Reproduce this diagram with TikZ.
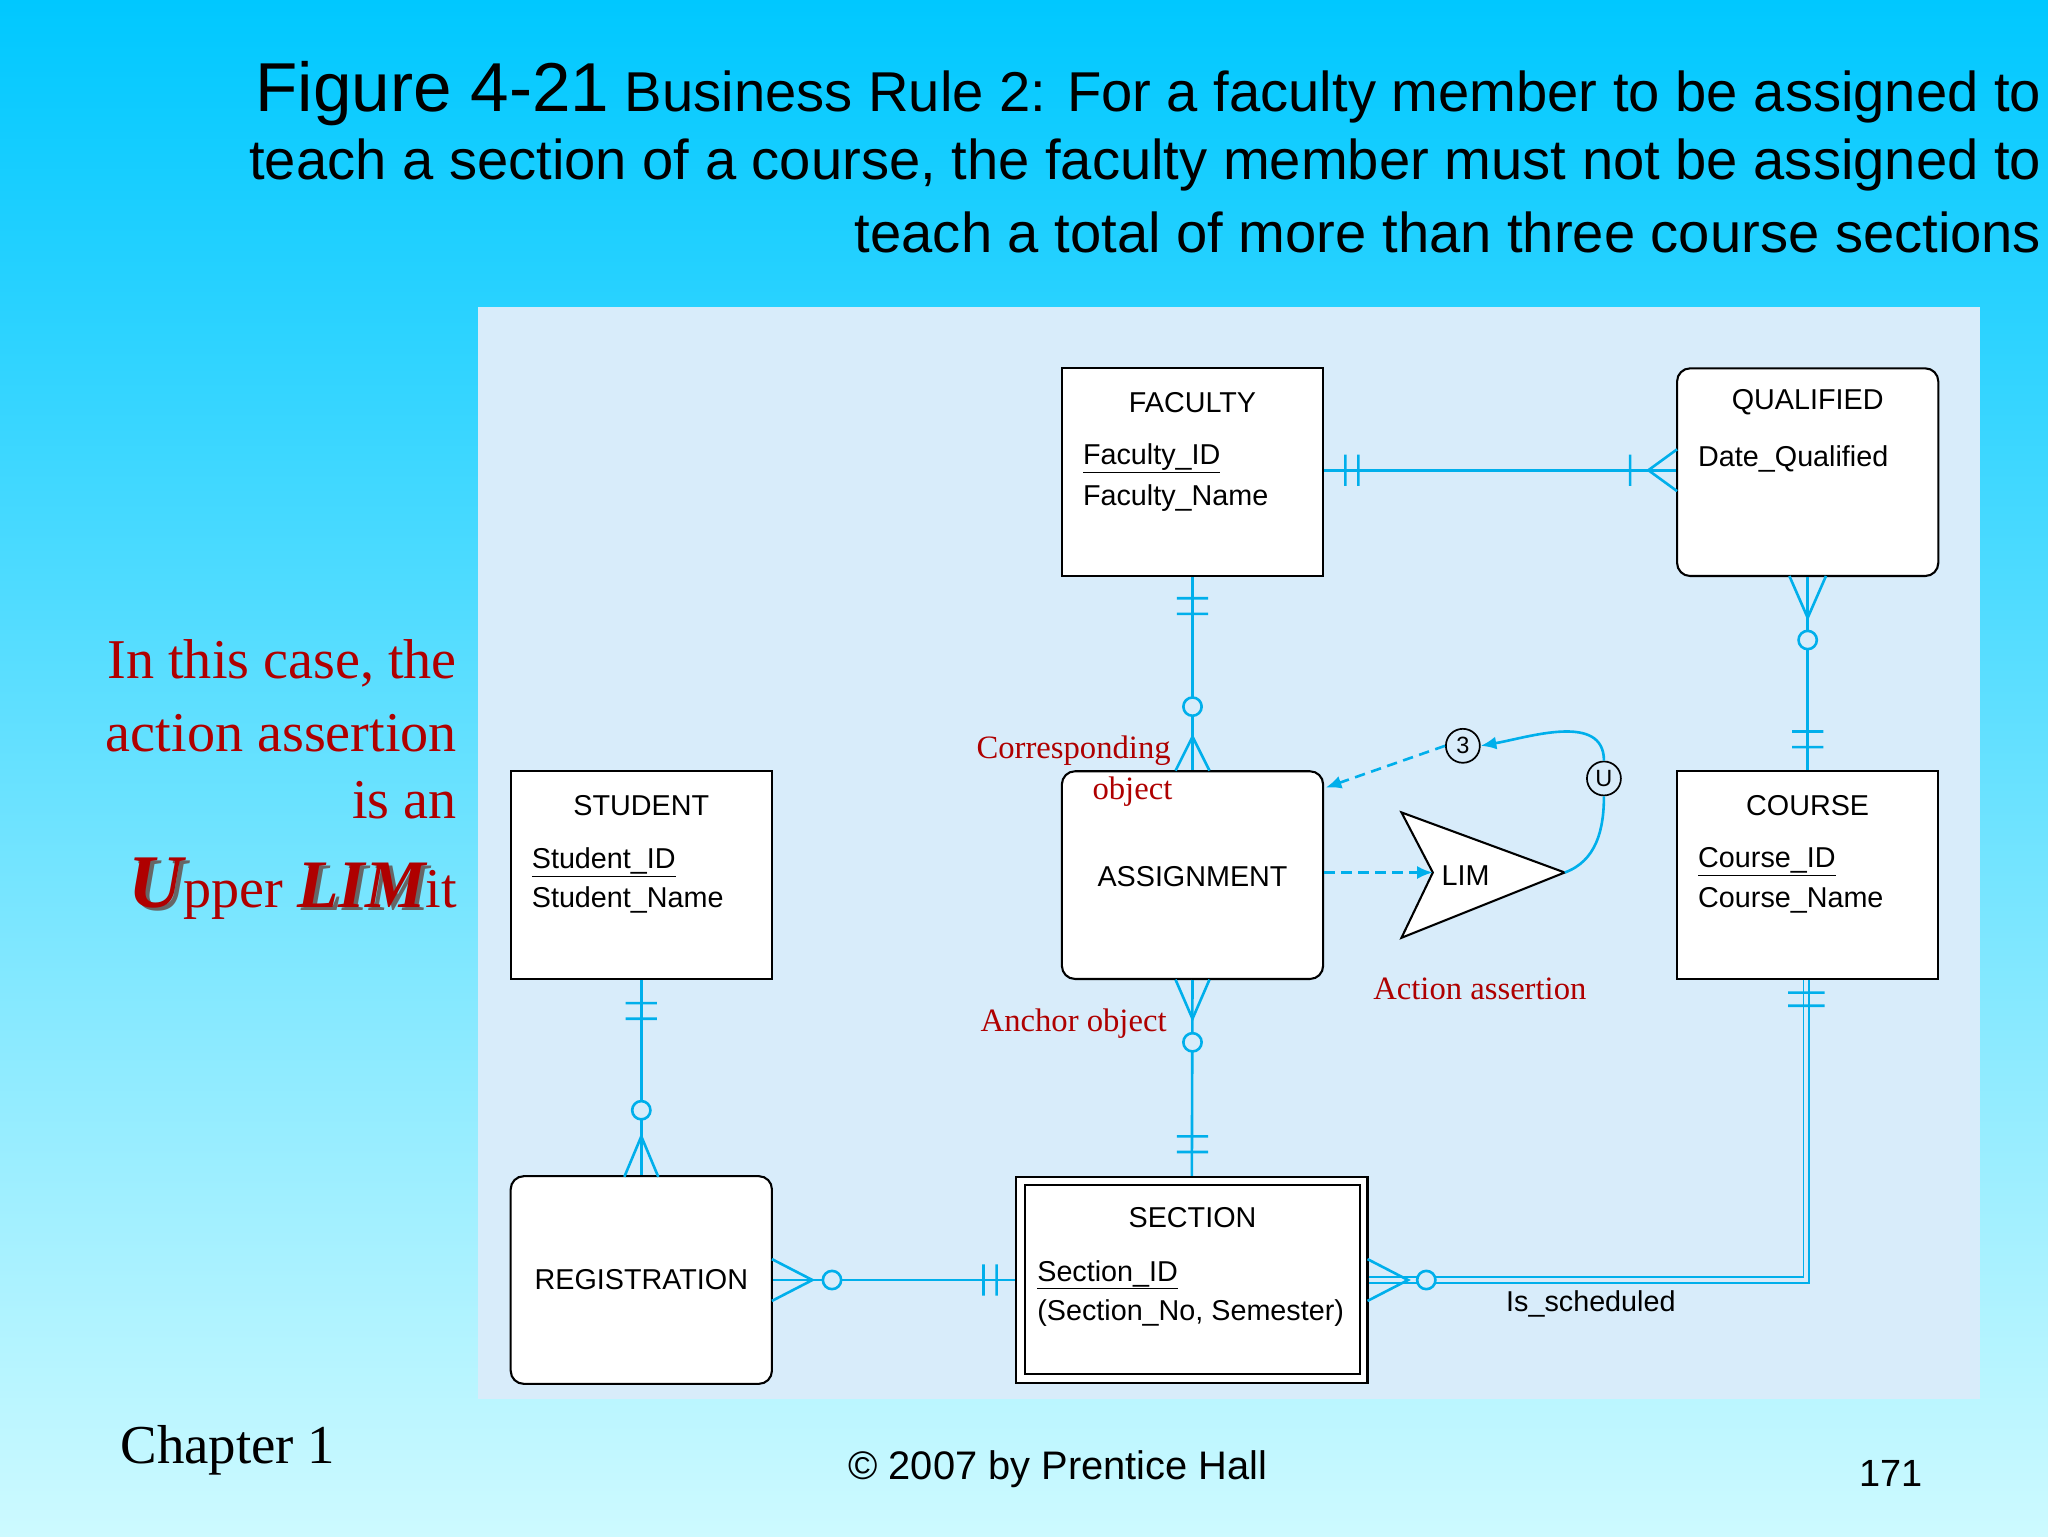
\documentclass[tikz,border=0pt]{standalone}
\usepackage{fontspec}
\setmainfont{Liberation Serif}
\setsansfont{Liberation Sans}
\usetikzlibrary{arrows.meta}
\begin{document}
\begin{tikzpicture}[x=1pt,y=-1pt,
  ln/.style={draw=lc,line width=2pt},
  ent/.style={draw=black,line width=1.6pt,fill=white,minimum width=200pt,minimum height=159pt,inner sep=0pt},
  rent/.style={ent,rounded corners=10pt},
  et/.style={font=\sffamily\fontsize{22}{26}\selectfont,inner sep=0pt},
  attr/.style={et,anchor=west,align=left},
  rt/.style={font=\fontsize{25}{29}\selectfont,text=rc,inner sep=0pt},
  dsh/.style={draw=lc,line width=2pt,dashed,dash pattern=on 8pt off 5pt,-{Latex[length=12pt,width=10pt]}}
]
\definecolor{lc}{RGB}{0,175,235}
\definecolor{rc}{RGB}{175,0,0}
\definecolor{bgt}{RGB}{0,200,255}
\definecolor{bgb}{RGB}{205,250,255}
\definecolor{pan}{RGB}{216,236,250}
\useasboundingbox (0,0) rectangle (1568,1176);
\shade[top color=bgt,bottom color=bgb] (0,0) rectangle (1568,1176);
\fill[pan] (366,235) rectangle (1516,1071);
% title
\node[anchor=east,font=\sffamily\fontsize{43}{47}\selectfont,inner sep=0pt] at (1563,72) {{\fontsize{53}{57}\selectfont Figure 4-21} Business Rule 2: For a faculty member to be assigned to};
\node[anchor=east,font=\sffamily\fontsize{43}{47}\selectfont,inner sep=0pt] at (1563,126) {teach a section of a course, the faculty member must not be assigned to};
\node[anchor=east,font=\sffamily\fontsize{43}{47}\selectfont,inner sep=0pt] at (1563,178) {teach a total of more than three course sections};
% left text
\node[anchor=east,text=rc,font=\fontsize{43}{47}\selectfont,inner sep=0pt] at (350,508) {In this case, the};
\node[anchor=east,text=rc,font=\fontsize{43}{47}\selectfont,inner sep=0pt] at (350,561) {action assertion};
\node[anchor=east,text=rc,font=\fontsize{43}{47}\selectfont,inner sep=0pt] at (350,613) {is an};
\node[anchor=east,text=black!60,font=\fontsize{43}{47}\selectfont,inner sep=0pt] at (353,683) {{\fontsize{58}{62}\selectfont\bfseries\itshape U}\phantom{pper }{\fontsize{52}{56}\selectfont\bfseries\itshape LIM}\phantom{it}};
\node[anchor=east,text=rc,font=\fontsize{43}{47}\selectfont,inner sep=0pt] at (350,680) {{\fontsize{58}{62}\selectfont\bfseries\itshape U}pper {\fontsize{52}{56}\selectfont\bfseries\itshape LIM}it};
% footer
\node[anchor=west,font=\fontsize{42}{46}\selectfont,inner sep=0pt] at (92,1110) {Chapter 1};
\node[font=\sffamily\fontsize{30.5}{34}\selectfont,inner sep=0pt] at (810,1125) {© 2007 by Prentice Hall};
\node[font=\sffamily\fontsize{29}{33}\selectfont,inner sep=0pt] at (1448,1128) {171};
% entities
\node[ent] (fac) at (913,361.5) {};
\node[rent] (qual) at (1384,361.5) {};
\node[ent] (stu) at (491,670) {};
\node[rent] (asg) at (913,670) {};
\node[ent] (crs) at (1384,670) {};
\node[rent] (reg) at (491,980) {};
\node[draw=black,line width=1.6pt,fill=white,minimum width=269pt,minimum height=158pt] (sec) at (912.5,980) {};
\draw[black,line width=1.6pt] (785,907) rectangle (1041,1052);
% entity texts
\node[et] at (913,308) {FACULTY};
\node[attr] at (829,351) {\underline{Faculty\_ID}};
\node[attr] at (829,381) {Faculty\_Name};
\node[et] at (1384,308) {QUALIFIED};
\node[attr] at (1300,351) {Date\_Qualified};
\node[et] at (491,617) {STUDENT};
\node[attr] at (407,660) {\underline{Student\_ID}};
\node[attr] at (407,689) {Student\_Name};
\node[et] at (913,671) {ASSIGNMENT};
\node[et] at (1384,617) {COURSE};
\node[attr] at (1300,660) {\underline{Course\_ID}};
\node[attr] at (1300,689) {Course\_Name};
\node[et] at (491,980) {REGISTRATION};
\node[et] at (913,932) {SECTION};
\node[attr] at (794,976) {\underline{Section\_ID}};
\node[attr] at (794,1005) {(Section\_No, Semester)};
\node[et] at (1218,998) {Is\_scheduled};
% connectors
\draw[ln] (fac.east |- 0,360) -- (qual.west |- 0,360);
\draw[ln] (1030,348)--(1030,372) (1040,348)--(1040,372) (1248,348)--(1248,372) (1284,344)--(1262,360)--(1284,376);
\draw[ln] (fac.south) -- (asg.north);
\draw[ln] (901,458)--(925,458) (901,470)--(925,470) (900,590)--(913,564)--(926,590);
\draw[ln,fill=pan] (913,541) circle (7);
\draw[ln] (qual.south) -- (crs.north);
\draw[ln] (1370,441)--(1384,473)--(1398,441) (1372,560)--(1396,560) (1372,572)--(1396,572);
\draw[ln,fill=pan] (1384,490) circle (7);
\draw[ln] (asg.south) -- (sec.north);
\draw[ln] (900,750)--(913,780)--(926,750) (901,870)--(925,870) (901,882)--(925,882);
\draw[ln,fill=pan] (913,798) circle (7);
\draw[ln] (stu.south) -- (reg.north);
\draw[ln] (479,768)--(503,768) (479,780)--(503,780) (478,901)--(491,870)--(504,901);
\draw[ln,fill=pan] (491,850) circle (7);
\draw[ln] (reg.east) -- (sec.west);
\draw[ln] (591,964)--(622,980)--(591,996) (753,968)--(753,992) (763,968)--(763,992);
\draw[ln,fill=pan] (637,980) circle (7);
\draw[draw=lc,line width=1.4pt,double=pan,double distance=3pt] (sec.east |- 0,980) -- (1383,980) -- (crs.south -| 1383,0);
\draw[ln] (1047,964)--(1078,980)--(1047,996) (1369,760)--(1397,760) (1369,770)--(1397,770);
\draw[ln,fill=pan] (1092,980) circle (7);
% LIM
\draw[black,line width=1.6pt,fill=white] (1073,622)--(1198,668)--(1073,718)--(1097,668)--cycle;
\node[et] (lim) at (1122,670) {LIM};
\coordinate (limin) at (1097,668);
\coordinate (limtip) at (1198,668);
\draw[dsh] (asg.east |- 0,668) -- (limin);
\node[draw=black,line width=1.3pt,circle,inner sep=0pt,minimum size=26pt,fill=pan,font=\sffamily\fontsize{18}{20}\selectfont] (u) at (1228,596) {U};
\node[draw=black,line width=1.3pt,circle,inner sep=0pt,minimum size=26pt,fill=pan,font=\sffamily\fontsize{18}{20}\selectfont] (three) at (1120,571) {3};
\draw[draw=lc,line width=2pt] (limtip) to[out=20,in=-90] (u.south);
\draw[draw=lc,line width=2pt,-{Latex[length=12pt,width=10pt]}] (u.north) to[out=90,in=10] (three.east);
\draw[dsh] (three.west) -- (1015,603);
% red labels
\node[rt] at (822,575) {Corresponding};
\node[rt] at (867,606) {object};
\node[rt] at (822,784) {Anchor object};
\node[rt] at (1133,757) {Action assertion};
\end{tikzpicture}
\end{document}
